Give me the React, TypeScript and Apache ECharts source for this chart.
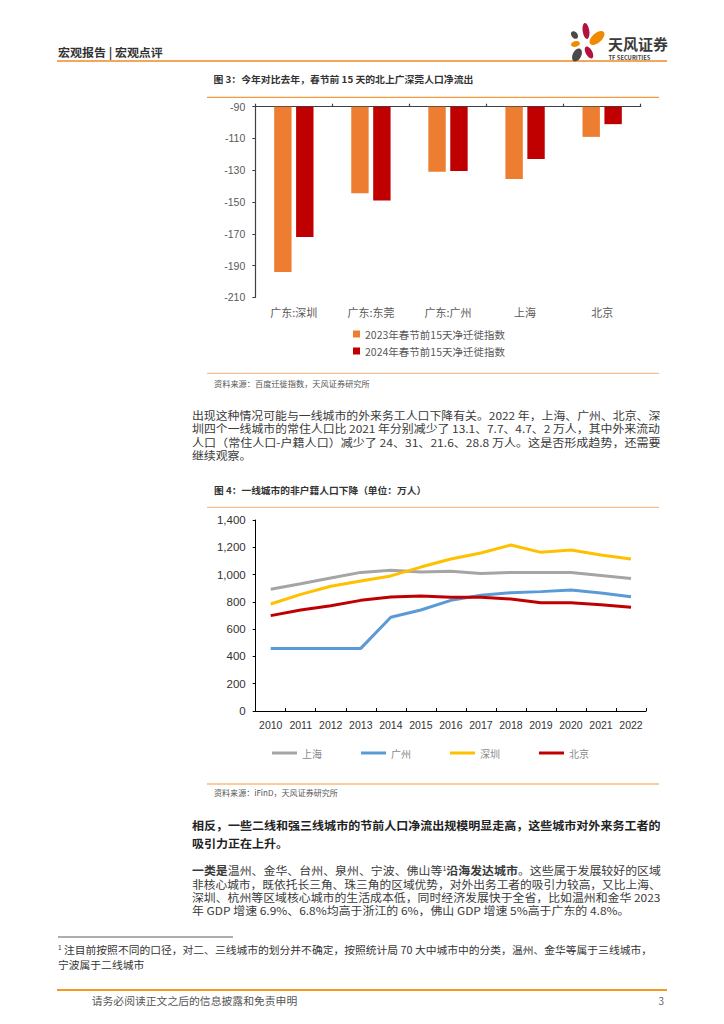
import React, { useEffect, useRef } from 'react';
import * as echarts from 'echarts';

// ---------- Figure 3 data ----------
const barCategories = ['广东:深圳', '广东:东莞', '广东:广州', '上海', '北京'];
const barSeriesNames = ['2023年春节前15天净迁徙指数', '2024年春节前15天净迁徙指数'];
const bar2023 = [-194, -144.5, -131, -135.5, -109];
const bar2024 = [-172, -149, -130.5, -123, -101];
const barAxisTop = -90; // value at the top axis line
const barAxisSpan = 120; // -90 .. -210
const barAxisStep = 20;

// ---------- Figure 4 data ----------
const years = ['2010', '2011', '2012', '2013', '2014', '2015', '2016', '2017', '2018', '2019', '2020', '2021', '2022'];
const lineNames = ['上海', '广州', '深圳', '北京'];
const shanghai = [892, 933, 975, 1016, 1031, 1019, 1024, 1007, 1016, 1016, 1016, 994, 972];
const guangzhou = [459, 459, 459, 459, 687, 740, 811, 848, 867, 875, 887, 865, 838];
const shenzhen = [784, 855, 914, 953, 990, 1055, 1114, 1158, 1217, 1163, 1180, 1143, 1114];
const beijing = [699, 740, 772, 811, 836, 843, 833, 833, 821, 794, 794, 779, 760];

// ---------- Page texts ----------
const headerText = '宏观报告 | 宏观点评';
const fig3Title = '图 3：今年对比去年，春节前 15 天的北上广深莞人口净流出';
const fig3Source = '资料来源：百度迁徙指数，天风证券研究所';
const fig4Title = '图 4：一线城市的非户籍人口下降（单位：万人）';
const fig4Source = '资料来源：iFinD，天风证券研究所';
const para1 = [
  '出现这种情况可能与一线城市的外来务工人口下降有关。2022 年，上海、广州、北京、深',
  '圳四个一线城市的常住人口比 2021 年分别减少了 13.1、7.7、4.7、2 万人，其中外来流动',
  '人口（常住人口-户籍人口）减少了 24、31、21.6、28.8 万人。这是否形成趋势，还需要',
  '继续观察。',
];
const boldPara = [
  '相反，一些二线和强三线城市的节前人口净流出规模明显走高，这些城市对外来务工者的',
  '吸引力正在上升。',
];
type Seg = [string, 'n' | 'b' | 's'];
const para2: Seg[][] = [
  [['一类是', 'b'], ['温州、金华、台州、泉州、宁波、佛山等', 'n'], ['1', 's'], ['沿海发达城市', 'b'], ['。这些属于发展较好的区域', 'n']],
  [['非核心城市，既依托长三角、珠三角的区域优势，对外出务工者的吸引力较高，又比上海、', 'n']],
  [['深圳、杭州等区域核心城市的生活成本低，同时经济发展快于全省，比如温州和金华 2023', 'n']],
  [['年 GDP 增速 6.9%、6.8%均高于浙江的 6%，佛山 GDP 增速 5%高于广东的 4.8%。', 'n']],
];
const footnote: Seg[][] = [
  [['1', 's'], [' 注目前按照不同的口径，对二、三线城市的划分并不确定，按照统计局 70 大中城市中的分类，温州、金华等属于三线城市，', 'n']],
  [['宁波属于二线城市', 'n']],
];
const footerText = '请务必阅读正文之后的信息披露和免责申明';
const pageNumber = '3';

const FAM = '"Noto Sans CJK SC", "Noto Sans", sans-serif';

export default function App() {
  const ref = useRef<HTMLDivElement>(null);

  useEffect(() => {
    if (!ref.current) return;
    const chart = echarts.init(ref.current, null, { renderer: 'svg' });
    const ctx = document.createElement('canvas').getContext('2d') as CanvasRenderingContext2D;
    const measure = (t: string, size: number, bold: boolean) => {
      ctx.font = `${bold ? 'bold ' : ''}${size}px ${FAM}`;
      return ctx.measureText(t).width;
    };

    const textLine = (
      segs: Seg[],
      x: number,
      y: number,
      size: number,
      color: string,
      opts: { fit?: number; scale?: number; bold?: boolean } = {}
    ) => {
      let width = 0;
      let str = '';
      const boldAll = !!opts.bold;
      segs.forEach(([t, k]) => {
        const b = boldAll || k === 'b';
        const sz = k === 's' ? size * 0.6 : size;
        width += measure(t, sz, b);
        str += k === 'n' ? t : `{${k}|${t}}`;
      });
      const scaleX = opts.fit ? opts.fit / width : opts.scale ?? 1;
      const lh = size * 1.15;
      return {
        el: {
          type: 'text',
          x,
          y,
          scaleX,
          silent: true,
          style: {
            text: str,
            fontSize: size,
            fontFamily: FAM,
            fontWeight: boldAll ? 'bold' : 'normal',
            fill: color,
            align: 'left',
            verticalAlign: 'middle',
            textAlign: 'left',
            textVerticalAlign: 'middle',
            lineHeight: lh,
            rich: {
              b: { fontWeight: 'bold', fontSize: size, fontFamily: FAM, fill: color, lineHeight: lh },
              s: { fontSize: size * 0.6, fontFamily: FAM, fill: color, lineHeight: size * 0.6, verticalAlign: 'top' },
            },
          },
        },
        scaleX,
      };
    };

    const graphics: any[] = [];
    const addLine = (x1: number, x2: number, y: number, color: string, w: number) =>
      graphics.push({ type: 'line', silent: true, shape: { x1, y1: y, x2, y2: y }, style: { stroke: color, lineWidth: w } });

    // header
    graphics.push(textLine([[headerText, 'n']], 58, 51.7, 11.5, '#333333', { fit: 105, bold: true }).el);
    addLine(57, 667, 61, '#F08A24', 1.6);
    // logo petals
    const petals = [
      { x: 586, y: 31, rx: 3.3, ry: 8, r: 0.15, c: '#B3123E' },
      { x: 574.5, y: 35, rx: 3, ry: 4.3, r: 0.7, c: '#4A4A4A' },
      { x: 597, y: 38, rx: 4.8, ry: 9, r: -0.85, c: '#F08A00' },
      { x: 575.5, y: 44, rx: 4.5, ry: 2.8, r: 0.2, c: '#F08A00' },
      { x: 589, y: 52.5, rx: 3.3, ry: 6.5, r: 0.5, c: '#B3123E' },
      { x: 577, y: 55, rx: 4.3, ry: 7, r: -0.45, c: '#4A4A4A' },
    ];
    petals.forEach((p) =>
      graphics.push({ type: 'ellipse', silent: true, x: p.x, y: p.y, rotation: p.r, shape: { cx: 0, cy: 0, rx: p.rx, ry: p.ry }, style: { fill: p.c } })
    );
    graphics.push(textLine([['天风证券', 'n']], 608, 44, 14.5, '#3A3A3A', { fit: 60, bold: true }).el);
    graphics.push(textLine([['TF SECURITIES', 'n']], 608.5, 57, 6, '#444444', { fit: 42, bold: true }).el);

    // Figure 3 frame
    graphics.push(textLine([[fig3Title, 'n']], 213.5, 79, 9.5, '#333333', { fit: 260, bold: true }).el);
    addLine(207, 659, 97.3, '#F39A3D', 1.2);
    addLine(207, 659, 373.3, '#F7BE8E', 1.2);
    graphics.push(textLine([[fig3Source, 'n']], 214, 383.3, 8, '#555555', { fit: 156 }).el);

    // paragraph 1
    const p1ys = [415, 428.5, 442, 455.5];
    let s1 = 1;
    para1.forEach((t, i) => {
      const last = i === para1.length - 1;
      const r = textLine([[t, 'n']], 192, p1ys[i], 11, '#3A3A3A', last ? { scale: s1 } : { fit: 469 });
      if (i === 0) s1 = r.scaleX;
      graphics.push(r.el);
    });

    // Figure 4 frame
    graphics.push(textLine([[fig4Title, 'n']], 214, 490, 9.5, '#333333', { fit: 212.5, bold: true }).el);
    addLine(207, 659, 507.3, '#F9BE8A', 1.2);
    addLine(207, 659, 784, '#F39A3D', 1.2);
    graphics.push(textLine([[fig4Source, 'n']], 214, 792.7, 8, '#555555', { fit: 124 }).el);

    // bold paragraph
    const bys = [824.5, 843];
    let sb = 1;
    boldPara.forEach((t, i) => {
      const last = i === boldPara.length - 1;
      const r = textLine([[t, 'n']], 192, bys[i], 11.5, '#222222', last ? { scale: sb, bold: true } : { fit: 469, bold: true });
      if (i === 0) sb = r.scaleX;
      graphics.push(r.el);
    });

    // paragraph 2
    const p2ys = [870.7, 884, 897.3, 910.7];
    let s2 = 1;
    para2.forEach((segs, i) => {
      const last = i === para2.length - 1;
      const r = textLine(segs, 192, p2ys[i], 11, '#3A3A3A', last ? { scale: s2 } : { fit: 469 });
      if (i === 0) s2 = r.scaleX;
      graphics.push(r.el);
    });

    // footnote
    addLine(58, 233, 937, '#333333', 0.8);
    const fys = [950, 965];
    let sf = 1;
    footnote.forEach((segs, i) => {
      const last = i === footnote.length - 1;
      const r = textLine(segs, 58, fys[i], 10, '#333333', last ? { scale: sf } : { fit: 594.5 });
      if (i === 0) sf = r.scaleX;
      graphics.push(r.el);
    });

    // footer
    addLine(57, 667, 990, '#F29A1F', 2);
    graphics.push(textLine([[footerText, 'n']], 91.7, 1000.7, 10, '#555555', { fit: 206 }).el);
    graphics.push(textLine([[pageNumber, 'n']], 658.5, 1000.7, 10, '#666666').el);

    const axisColor = '#404040';

    chart.setOption({
      animation: false,
      backgroundColor: '#ffffff',
      textStyle: { fontFamily: FAM },
      grid: [
        { left: 255.3, top: 106.7, width: 385.4, height: 190.6, containLabel: false },
        { left: 255.7, top: 520, width: 390.3, height: 191, containLabel: false },
      ],
      legend: [
        {
          data: barSeriesNames,
          orient: 'vertical',
          left: 353,
          top: 328,
          padding: 0,
          itemWidth: 7,
          itemHeight: 7,
          itemGap: 5,
          icon: 'rect',
          textStyle: { fontSize: 10.5, color: '#595959', lineHeight: 12, fontFamily: FAM },
        },
        {
          data: lineNames,
          orient: 'horizontal',
          left: 272,
          top: 747,
          padding: 0,
          itemWidth: 25,
          itemHeight: 3,
          itemGap: 39,
          icon: 'rect',
          textStyle: { fontSize: 10, color: '#8A8A8A', lineHeight: 12, fontFamily: FAM },
        },
      ],
      xAxis: [
        {
          gridIndex: 0,
          type: 'category',
          data: barCategories,
          position: 'bottom',
          axisLine: { show: false, onZero: false },
          axisTick: { show: false },
          axisLabel: { margin: 9, fontSize: 11, color: '#595959', fontFamily: FAM, interval: 0 },
          splitLine: { show: false },
        },
        {
          gridIndex: 0,
          type: 'category',
          data: barCategories,
          position: 'top',
          axisLine: { show: true, onZero: false, lineStyle: { color: axisColor, width: 1.2 } },
          axisTick: { show: true, length: 3, lineStyle: { color: axisColor, width: 1.2 } },
          axisLabel: { show: false },
          splitLine: { show: false },
        },
        {
          gridIndex: 1,
          type: 'category',
          data: years,
          position: 'bottom',
          boundaryGap: true,
          axisLine: { show: true, onZero: false, lineStyle: { color: '#000000', width: 1 } },
          axisTick: { show: true, inside: true, length: 3, interval: 0, lineStyle: { color: '#000000' } },
          axisLabel: {
            margin: 8,
            fontSize: 10.5,
            interval: 0,
            hideOverlap: false,
            color: '#333333',
            fontFamily: 'Liberation Sans, sans-serif',
          },
          splitLine: { show: false },
        },
      ],
      yAxis: [
        {
          gridIndex: 0,
          type: 'value',
          inverse: true,
          min: 0,
          max: barAxisSpan,
          interval: barAxisStep,
          axisLine: { show: true, lineStyle: { color: axisColor, width: 1.2 } },
          axisTick: { show: true, length: 3, lineStyle: { color: axisColor } },
          axisLabel: {
            margin: 10,
            fontSize: 10.5,
            color: '#595959',
            fontFamily: 'Liberation Sans, sans-serif',
            formatter: (v: number) => String(barAxisTop - v),
          },
          splitLine: { show: false },
        },
        {
          gridIndex: 1,
          type: 'value',
          min: 0,
          max: 1400,
          interval: 200,
          axisLine: { show: true, lineStyle: { color: '#000000', width: 1 } },
          axisTick: { show: true, length: 3, lineStyle: { color: '#000000' } },
          axisLabel: {
            margin: 10,
            fontSize: 11.5,
            color: '#333333',
            fontFamily: 'Liberation Sans, sans-serif',
            formatter: (v: number) => v.toLocaleString('en-US'),
          },
          splitLine: { show: false },
        },
      ],
      series: [
        {
          name: barSeriesNames[0],
          type: 'bar',
          xAxisIndex: 0,
          yAxisIndex: 0,
          barWidth: 17.4,
          barGap: '26%',
          itemStyle: { color: '#ED7D31' },
          data: bar2023.map((v) => barAxisTop - v),
        },
        {
          name: barSeriesNames[1],
          type: 'bar',
          xAxisIndex: 0,
          yAxisIndex: 0,
          barWidth: 17.4,
          barGap: '26%',
          itemStyle: { color: '#C00000' },
          data: bar2024.map((v) => barAxisTop - v),
        },
        ...[
          { name: lineNames[0], data: shanghai, color: '#A5A5A5' },
          { name: lineNames[1], data: guangzhou, color: '#5B9BD5' },
          { name: lineNames[2], data: shenzhen, color: '#FFC000' },
          { name: lineNames[3], data: beijing, color: '#C00000' },
        ].map((s) => ({
          name: s.name,
          type: 'line',
          xAxisIndex: 2,
          yAxisIndex: 1,
          symbol: 'none',
          showSymbol: false,
          data: s.data,
          itemStyle: { color: s.color },
          lineStyle: { color: s.color, width: 3 },
        })),
      ],
      graphic: graphics,
    });

    return () => chart.dispose();
  }, []);

  return (
    <div
      ref={ref}
      style={{ position: 'absolute', left: 0, top: 0, width: 724, height: 1024, background: '#ffffff' }}
    />
  );
}
